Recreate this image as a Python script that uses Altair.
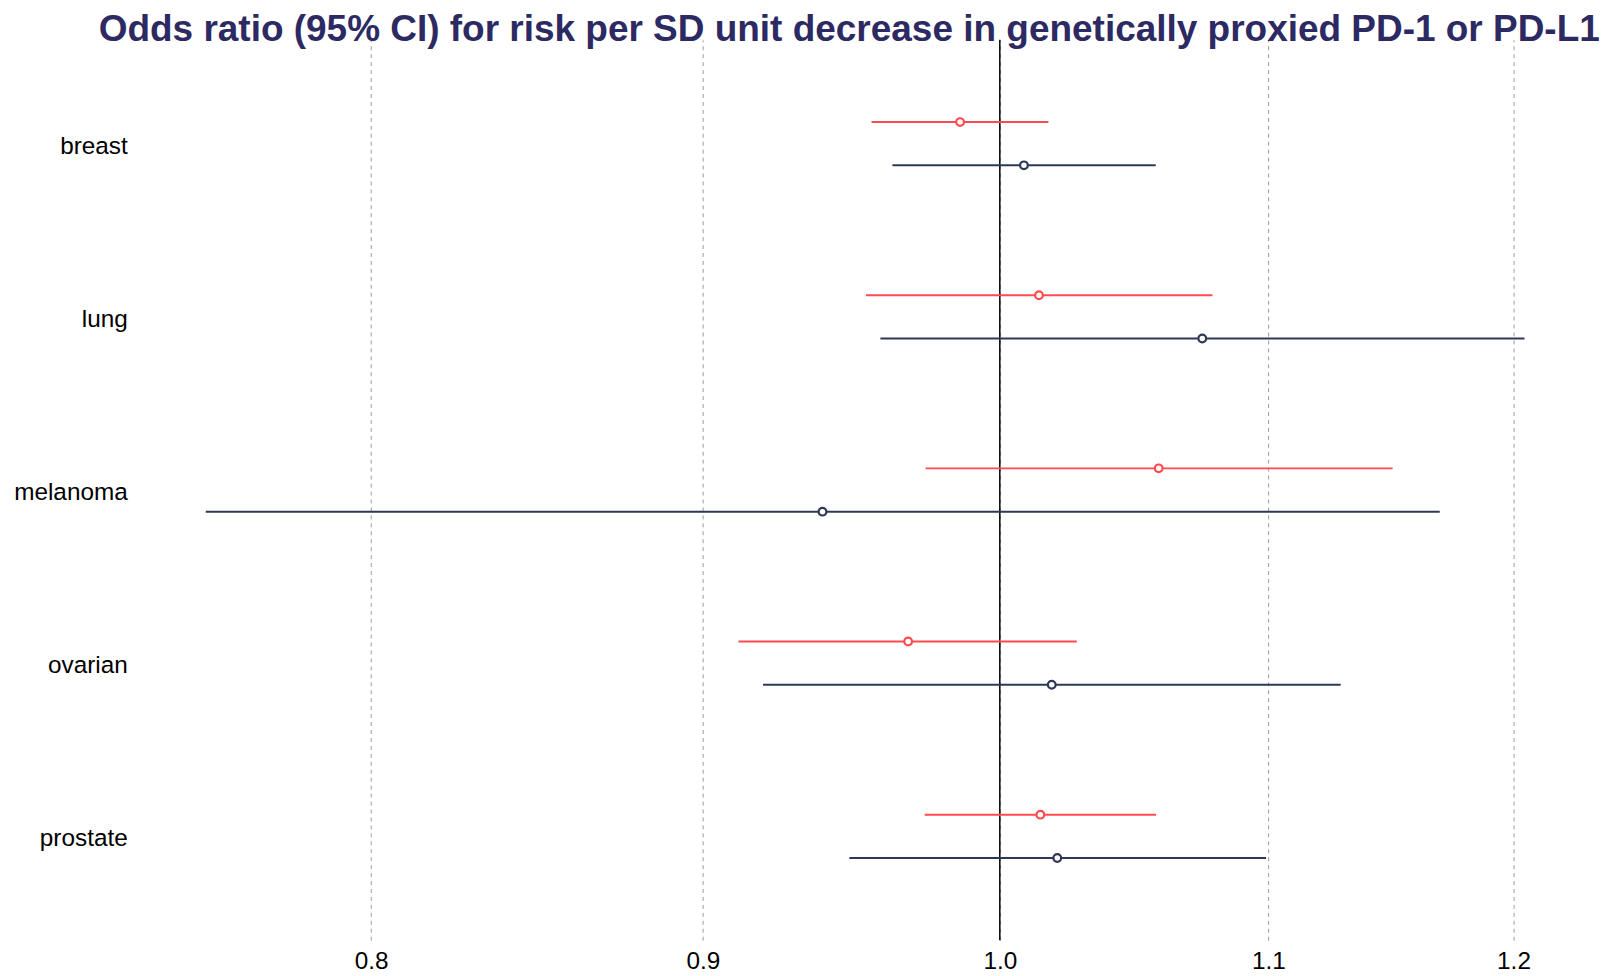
import altair as alt
import pandas as pd

cancers = ["breast", "lung", "melanoma", "ovarian", "prostate"]
series = ["PD-1", "PD-L1"]
colors = ["#FF4B4F", "#2E3856"]

pd1_or = [0.986, 1.014, 1.058, 0.968, 1.0145]
pd1_lo = [0.9555, 0.9536, 0.974, 0.9114, 0.9737]
pd1_hi = [1.0174, 1.0784, 1.1496, 1.0277, 1.0570]

pdl1_or = [1.0086, 1.0745, 0.939, 1.0186, 1.0206]
pdl1_lo = [0.9626, 0.9585, 0.7544, 0.9194, 0.9480]
pdl1_hi = [1.0569, 1.2047, 1.169, 1.1286, 1.0991]

tick_values = [0.8, 0.9, 1.0, 1.1, 1.2]
x_domain = [0.7373, 1.2188]

rows = []
for i, c in enumerate(cancers):
    rows.append({"cancer": c, "series": series[0], "or": pd1_or[i], "lo": pd1_lo[i], "hi": pd1_hi[i]})
    rows.append({"cancer": c, "series": series[1], "or": pdl1_or[i], "lo": pdl1_lo[i], "hi": pdl1_hi[i]})
df = pd.DataFrame(rows)

FONT = "Liberation Sans"

xscale = alt.Scale(type="log", domain=x_domain, nice=False)
yscale = alt.Scale(domain=cancers, paddingInner=0, paddingOuter=0.1)
yoff = alt.Scale(domain=series, paddingInner=0, paddingOuter=1)
color = alt.Color("series:N", scale=alt.Scale(domain=series, range=colors), legend=None)

base = alt.Chart(df)

ci = base.mark_rule(strokeWidth=2).encode(
    x=alt.X("lo:Q", scale=xscale,
            axis=alt.Axis(values=tick_values, format=".1f", title=None, domain=False, ticks=False,
                          labelFontSize=24.5, labelFont=FONT, labelColor="#000000", labelPadding=9,
                          grid=True, gridDash=[4, 4], gridColor="#9a9a9a", gridWidth=1)),
    x2="hi:Q",
    y=alt.Y("cancer:N", scale=yscale, sort=cancers,
            axis=alt.Axis(title=None, domain=False, ticks=False, labelFontSize=24.5, labelFont=FONT,
                          labelColor="#000000", labelPadding=14, labelOffset=3, grid=False)),
    yOffset=alt.YOffset("series:N", scale=yoff, sort=series),
    color=color,
)

pts = base.mark_point(shape="circle", filled=False, fill="white", fillOpacity=1, size=60, strokeWidth=2.2, opacity=1).encode(
    x=alt.X("or:Q", scale=xscale),
    y=alt.Y("cancer:N", scale=yscale, sort=cancers),
    yOffset=alt.YOffset("series:N", scale=yoff, sort=series),
    color=color,
)

ref = alt.Chart(pd.DataFrame({"v": [1.0]})).mark_rule(color="#000000", strokeWidth=1.5).encode(
    x=alt.X("v:Q", scale=xscale)
)

chart = alt.layer(ref, ci, pts).properties(
    width=1425,
    height=906,
    padding={"left": 5, "top": 0, "right": 5, "bottom": 0},
    title=alt.TitleParams(
        "Odds ratio (95% CI) for risk per SD unit decrease in genetically proxied PD-1 or PD-L1",
        font=FONT, fontSize=37.2, fontWeight="bold", color="#2D2A63", offset=-10, anchor="middle",
    ),
).configure_view(strokeWidth=0, stroke="transparent")

chart.save("out.html", embed_options={"renderer": "svg", "actions": False})
